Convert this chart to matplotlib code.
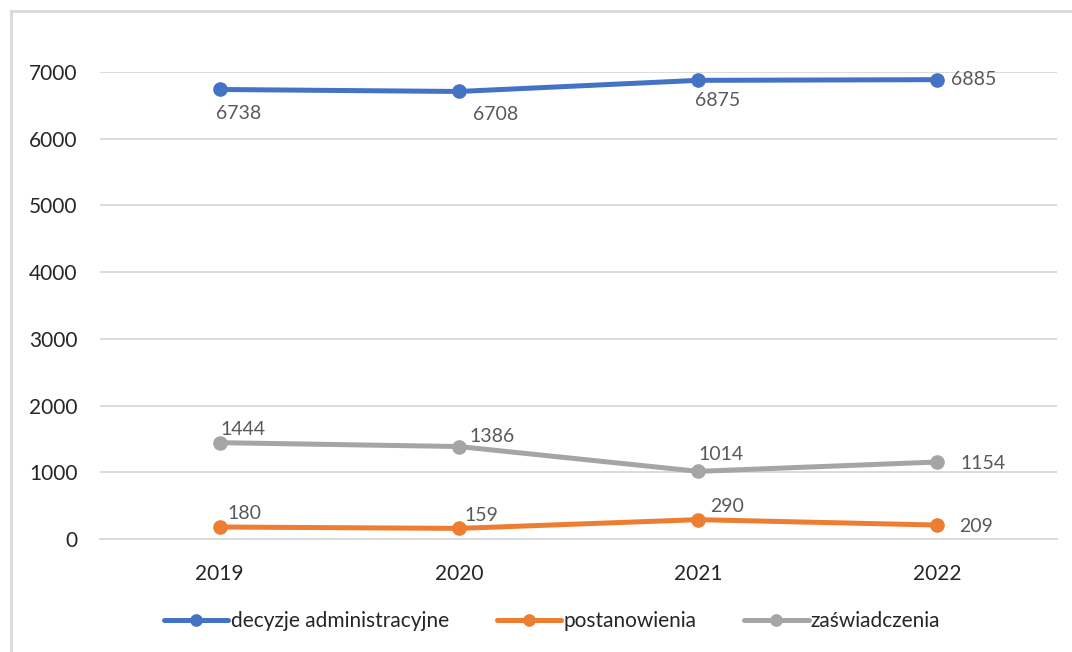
import matplotlib

matplotlib.use("Agg")
import matplotlib.pyplot as plt
from matplotlib.lines import Line2D

plt.rcParams["font.family"] = ["Lato", "DejaVu Sans"]

YEARS = ["2019", "2020", "2021", "2022"]
DECYZJE = [6738, 6708, 6875, 6885]
POSTANOWIENIA = [180, 159, 290, 209]
ZASWIADCZENIA = [1444, 1386, 1014, 1154]

SERIES = [
    ("decyzje administracyjne", DECYZJE, "#4472C4"),
    ("postanowienia", POSTANOWIENIA, "#ED7D31"),
    ("zaświadczenia", ZASWIADCZENIA, "#A5A5A5"),
]

# przesunięcia etykiet danych (piksele) — jak w oryginale z Excela
LABEL_OFFSETS = {
    "decyzje administracyjne": [(-4, -24), (14, -23), (-3, -20), (14, 0)],
    "postanowienia": [(8, 13), (6, 13), (12, 13), (22, -1)],
    "zaświadczenia": [(1, 13), (11, 10), (0, 17), (23, -1)],
}

W, H = 1072, 652
fig = plt.figure(figsize=(W / 100, H / 100), dpi=100)
ax = fig.add_axes([100 / W, 1 - 539 / H, 957 / W, 467 / H])

x = range(len(YEARS))
for name, vals, color in SERIES:
    ax.plot(x, vals, color=color, lw=3.6, marker="o", ms=9.5, label=name,
            solid_capstyle="round", zorder=3)
    for i, v in enumerate(vals):
        dx, dy = LABEL_OFFSETS[name][i]
        ax.annotate(str(v), (i, v), xytext=(dx, dy), textcoords="offset pixels",
                    ha="left", va="center", fontsize=14, color="#595959")

ax.set_xlim(-0.5, len(YEARS) - 0.5)
ax.set_ylim(0, 7000)
ax.set_yticks(range(0, 7001, 1000))
ax.set_xticks(list(x))
ax.set_xticklabels(YEARS)
ax.tick_params(length=0, labelsize=15, colors="#262626")
ax.tick_params(axis="y", pad=16)
ax.tick_params(axis="x", pad=18)
ax.grid(axis="y", color="#D9D9D9", lw=1.3)
ax.set_axisbelow(True)
for s in ax.spines.values():
    s.set_visible(False)
ax.spines["bottom"].set_visible(True)
ax.spines["bottom"].set_color("#D9D9D9")
ax.spines["bottom"].set_linewidth(1.3)

leg = fig.legend(loc="center", bbox_to_anchor=(0.515, 1 - 621 / H), ncol=3,
                 frameon=False, fontsize=15, handlelength=3.1, handletextpad=0.1,
                 columnspacing=2.3, markerscale=0.85, labelcolor="#262626")

# ramka wykresu (widoczna tylko lewa i górna krawędź)
fig.add_artist(Line2D([10.5 / W, 10.5 / W], [0, 1 - 10.5 / H], color="#D9D9D9", lw=2))
fig.add_artist(Line2D([10.5 / W, 1], [1 - 10.5 / H, 1 - 10.5 / H], color="#D9D9D9", lw=2))

fig.savefig("out.png", dpi=100)
